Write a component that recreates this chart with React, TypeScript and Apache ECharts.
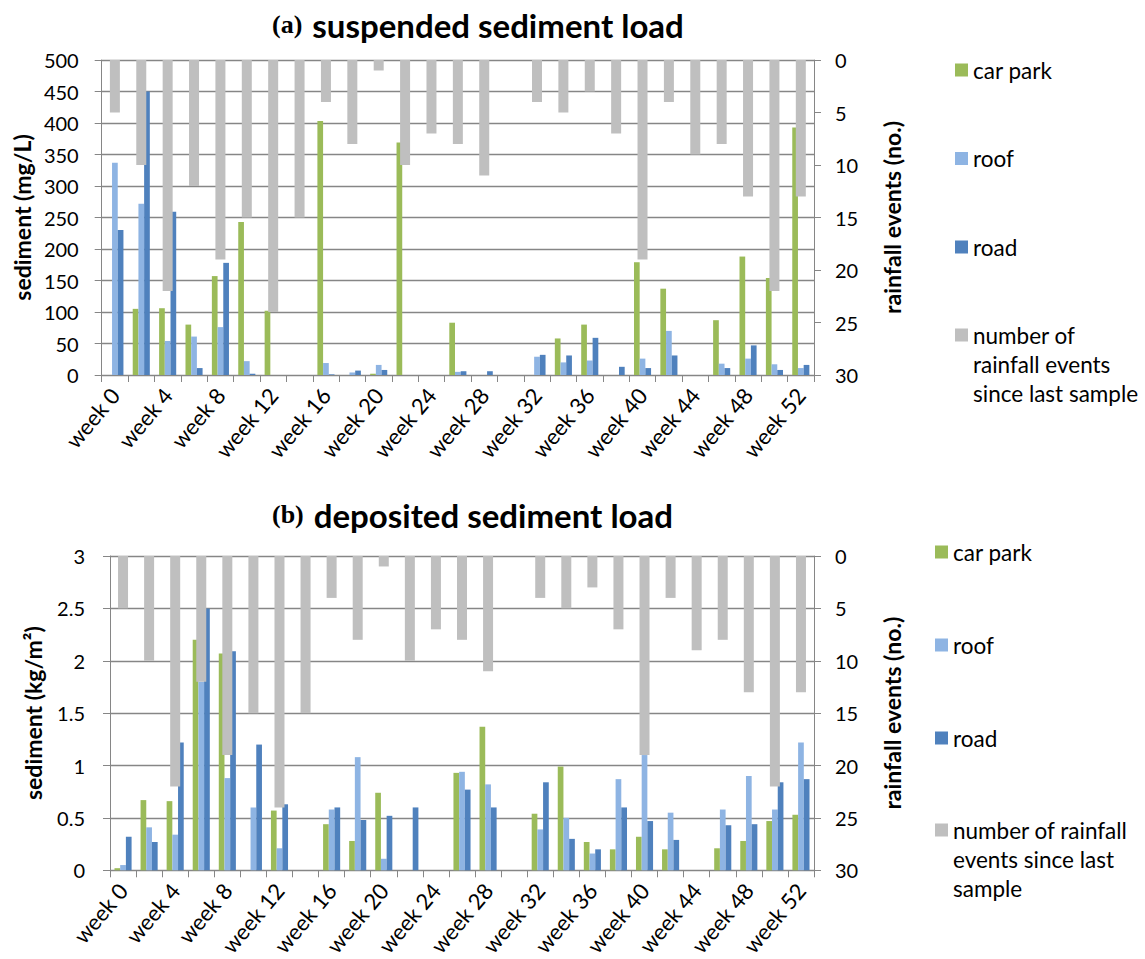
import React, { useEffect, useRef } from "react";
import * as echarts from "echarts";

const weeks = [
  "week 0", "week 2", "week 4", "week 6", "week 8", "week 10", "week 12", "week 14", "week 16",
  "week 18", "week 20", "week 22", "week 24", "week 26", "week 28", "week 30", "week 32", "week 34",
  "week 36", "week 38", "week 40", "week 42", "week 44", "week 46", "week 48", "week 50", "week 52",
];

// (a) suspended sediment load (mg/L)
const carParkA = [0, 105, 106, 80, 157, 243, 102, 0, 403, 0, 2, 369, 0, 83, 0, 0, 0, 58, 80, 0, 179, 137, 0, 87, 188, 154, 393];
const roofA = [337, 272, 54, 61, 76, 22, 0, 0, 19, 4, 16, 0, 0, 5, 0, 0, 29, 20, 23, 0, 26, 70, 0, 18, 26, 17, 11];
const roadA = [230, 450, 259, 11, 178, 2, 0, 0, 1, 7, 8, 0, 0, 6, 6, 0, 32, 31, 59, 13, 11, 31, 0, 11, 47, 8, 16];

// (b) deposited sediment load (kg/m2)
const carParkB = [0.02, 0.67, 0.66, 2.2, 2.07, 0, 0.57, 0, 0.44, 0.28, 0.74, 0, 0, 0.93, 1.37, 0, 0.54, 0.99, 0.27, 0.2, 0.32, 0.2, 0, 0.21, 0.28, 0.47, 0.53];
const roofB = [0.05, 0.41, 0.34, 1.8, 0.88, 0.6, 0.21, 0, 0.58, 1.08, 0.11, 0, 0, 0.94, 0.82, 0, 0.39, 0.5, 0.16, 0.87, 1.1, 0.55, 0, 0.58, 0.9, 0.58, 1.22];
const roadB = [0.32, 0.27, 1.22, 2.5, 2.09, 1.2, 0.63, 0, 0.6, 0.48, 0.52, 0.6, 0, 0.77, 0.6, 0, 0.84, 0.3, 0.2, 0.6, 0.47, 0.29, 0, 0.43, 0.44, 0.84, 0.87];

// number of rainfall events since last sample (same in both panels)
const rainfall = [5, 10, 22, 12, 19, 15, 24, 15, 4, 8, 1, 10, 7, 8, 11, 0, 4, 5, 3, 7, 19, 4, 9, 8, 13, 22, 13];

const leftTicksA = { min: 0, max: 500, interval: 50 };
const leftTicksB = { min: 0, max: 3, interval: 0.5 };
const rightTicks = { min: 0, max: 30, interval: 5 };

const RAIN_NAME = "number of rainfall events since last sample";

export default function App() {
  const ref = useRef<HTMLDivElement>(null);

  useEffect(() => {
    const chart = echarts.init(ref.current!, null, { renderer: "svg" });
    const font = "Lato";
    const axisGray = "#868686";
    const txt = { fontFamily: font, fontSize: 20, color: "#000" };
    const nameTxt = { fontFamily: font, fontSize: 23, color: "#000", fontWeight: "bold" };

    const visibleX = (gridIndex: number) => ({
      type: "category",
      gridIndex,
      data: weeks,
      axisLine: { show: true, lineStyle: { color: axisGray, width: 1 } },
      axisTick: { show: true, interval: 0, length: 7, lineStyle: { color: axisGray } },
      axisLabel: { ...txt, fontSize: 22, interval: 1, rotate: 50, margin: 16 },
    });
    const hiddenX = (gridIndex: number) => ({
      type: "category",
      gridIndex,
      data: weeks,
      show: false,
    });
    const leftY = (gridIndex: number, ticks: any, name: string, gap: number, margin: number) => ({
      type: "value",
      gridIndex,
      position: "left",
      ...ticks,
      name,
      nameLocation: "middle",
      nameGap: gap,
      nameTextStyle: nameTxt,
      axisLine: { show: true, lineStyle: { color: axisGray } },
      axisTick: { show: true, length: 7, lineStyle: { color: axisGray } },
      axisLabel: { ...txt, margin },
      splitLine: { show: true, lineStyle: { color: axisGray, width: 1.3 } },
    });
    const rightY = (gridIndex: number) => ({
      type: "value",
      gridIndex,
      position: "right",
      inverse: true,
      ...rightTicks,
      name: "rainfall events (no.)",
      nameLocation: "middle",
      nameGap: 66,
      nameTextStyle: nameTxt,
      axisLine: { show: true, lineStyle: { color: axisGray } },
      axisTick: { show: true, length: 7, lineStyle: { color: axisGray } },
      axisLabel: { ...txt, margin: 21 },
      splitLine: { show: false },
    });

    const panelSeries = (xi: number, yi: number, cp: number[], rf: number[], rd: number[]) => [
      { type: "bar", name: "car park", xAxisIndex: xi, yAxisIndex: yi, data: cp, barWidth: 5.7, barGap: "0%", itemStyle: { color: "#9BBB59" } },
      { type: "bar", name: "roof", xAxisIndex: xi, yAxisIndex: yi, data: rf, barWidth: 5.7, barGap: "0%", itemStyle: { color: "#8EB4E3" } },
      { type: "bar", name: "road", xAxisIndex: xi, yAxisIndex: yi, data: rd, barWidth: 5.7, barGap: "0%", itemStyle: { color: "#4F81BD" } },
      { type: "bar", name: RAIN_NAME, xAxisIndex: xi + 1, yAxisIndex: yi + 1, data: rainfall, barWidth: 10, itemStyle: { color: "#BFBFBF" } },
    ];

    const legendText = { ...txt, fontSize: 22.5, lineHeight: 29 };
    const titleRich = {
      a: { fontFamily: "Liberation Serif", fontWeight: "bold", fontSize: 26, color: "#000" },
      b: { fontFamily: font, fontWeight: "bold", fontSize: 33, color: "#000" },
    };

    chart.setOption({
      animation: false,
      backgroundColor: "#fff",
      title: [
        { text: "{a|(a)}  {b|suspended sediment load}", left: 272, top: 8, padding: 0, textStyle: { rich: titleRich } },
        { text: "{a|(b)}  {b|deposited sediment load}", left: 272, top: 498, padding: 0, textStyle: { rich: titleRich } },
      ],
      legend: [
        {
          orient: "vertical", left: 955, top: 55.5, padding: 0, itemGap: 59.5, itemWidth: 13, itemHeight: 13,
          icon: "rect", selectedMode: false, data: ["car park", "roof", "road"], textStyle: legendText,
        },
        {
          orient: "vertical", left: 955, top: 262.5, padding: 0, itemWidth: 13, itemHeight: 13,
          icon: "rect", selectedMode: false, data: [RAIN_NAME], textStyle: legendText,
          formatter: () => "\n\nnumber of\nrainfall events\nsince last sample",
        },
        {
          orient: "vertical", left: 935, top: 537.5, padding: 0, itemGap: 64, itemWidth: 13, itemHeight: 13,
          icon: "rect", selectedMode: false, data: ["car park", "roof", "road"], textStyle: legendText,
        },
        {
          orient: "vertical", left: 935, top: 757.5, padding: 0, itemWidth: 13, itemHeight: 13,
          icon: "rect", selectedMode: false, data: [RAIN_NAME], textStyle: legendText,
          formatter: () => "\n\nnumber of rainfall\nevents since last\nsample",
        },
      ],
      grid: [
        { left: 101.7, top: 60, width: 712.3, height: 315 },
        { left: 110, top: 556, width: 704, height: 315 },
      ],
      xAxis: [visibleX(0), hiddenX(0), visibleX(1), hiddenX(1)],
      yAxis: [
        leftY(0, leftTicksA, "sediment (mg/L)", 68, 23),
        rightY(0),
        leftY(1, leftTicksB, "sediment (kg/m²)", 66, 25),
        rightY(1),
      ],
      series: [
        ...panelSeries(0, 0, carParkA, roofA, roadA),
        ...panelSeries(2, 2, carParkB, roofB, roadB),
      ],
    });

    return () => chart.dispose();
  }, []);

  return (
    <div
      ref={ref}
      style={{ position: "fixed", left: 0, top: 0, width: 1145, height: 959, background: "#fff" }}
    />
  );
}
